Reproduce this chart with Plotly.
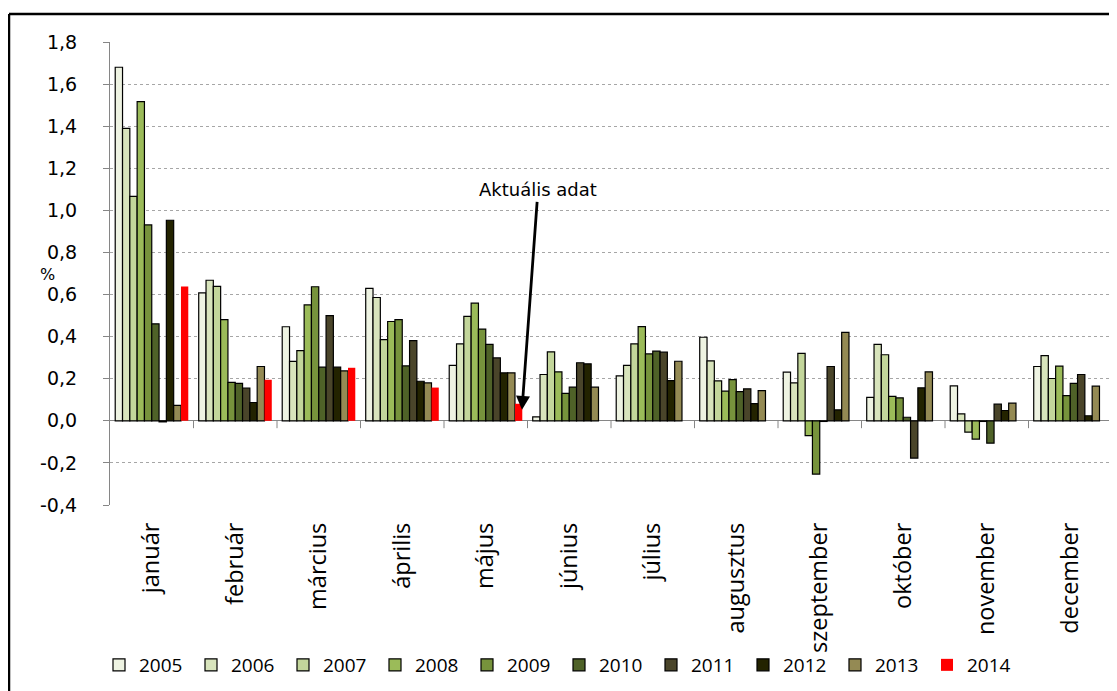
import plotly.graph_objects as go

months = ["január", "február", "március", "április", "május", "június",
          "július", "augusztus", "szeptember", "október", "november", "december"]
years = ["2005", "2006", "2007", "2008", "2009", "2010", "2011", "2012", "2013", "2014"]

v2005 = [1.68, 0.608, 0.447, 0.629, 0.263, 0.019, 0.214, 0.397, 0.231, 0.111, 0.166, 0.258]
v2006 = [1.39, 0.668, 0.282, 0.586, 0.366, 0.220, 0.263, 0.285, 0.180, 0.363, 0.033, 0.310]
v2007 = [1.066, 0.639, 0.334, 0.386, 0.496, 0.328, 0.366, 0.190, 0.320, 0.314, -0.054, 0.201]
v2008 = [1.517, 0.481, 0.551, 0.472, 0.559, 0.233, 0.448, 0.141, -0.070, 0.116, -0.087, 0.260]
v2009 = [0.931, 0.183, 0.637, 0.481, 0.436, 0.130, 0.318, 0.196, -0.253, 0.109, -0.003, 0.120]
v2010 = [0.461, 0.178, 0.255, 0.261, 0.363, 0.160, 0.331, 0.139, -0.003, 0.017, -0.106, 0.178]
v2011 = [-0.005, 0.156, 0.500, 0.381, 0.299, 0.276, 0.326, 0.152, 0.258, -0.177, 0.079, 0.220]
v2012 = [0.953, 0.087, 0.255, 0.188, 0.228, 0.271, 0.191, 0.082, 0.052, 0.157, 0.049, 0.024]
v2013 = [0.073, 0.258, 0.237, 0.180, 0.228, 0.160, 0.283, 0.143, 0.420, 0.233, 0.084, 0.165]
v2014 = [0.638, 0.195, 0.252, 0.158, 0.081, None, None, None, None, None, None, None]

series = [v2005, v2006, v2007, v2008, v2009, v2010, v2011, v2012, v2013, v2014]
colors = ["#eef3e2", "#d8e4bc", "#c3d69b", "#9bbb59", "#77933c", "#4f6228",
          "#4a452a", "#232300", "#948a54", "#ff0000"]

ytick_vals = [-0.4, -0.2, 0.0, 0.2, 0.4, 0.6, 0.8, 1.0, 1.2, 1.4, 1.6, 1.8]
ytick_text = ["-0,4", "-0,2", "0,0", "0,2", "0,4", "0,6", "0,8", "1,0", "1,2", "1,4", "1,6", "1,8"]

fig = go.Figure()
for yr, vals, col in zip(years, series, colors):
    line = dict(color="#000000", width=1.2) if yr != "2014" else dict(width=0)
    fig.add_trace(go.Bar(name=yr, x=months, y=vals, marker=dict(color=col, line=line)))

# the page body adds an 8px offset, so figure coordinates are screen minus 8
W, H = 1117, 691
ml, mt = 102, 34
mr = W - 1104
mb = H - 497
pw, ph = W - ml - mr, H - mt - mb

shapes = []
# category separator ticks hanging below the zero line
for k in range(1, len(months)):
    shapes.append(dict(type="line", xref="x", yref="y", x0=k - 0.5, x1=k - 0.5,
                       y0=0, y1=-0.035, line=dict(color="#868686", width=1)))
# outer frame (top and left)
fy = 1 + (mt - 6) / ph
fx = (1 - ml) / pw
shapes.append(dict(type="line", xref="paper", yref="paper", x0=fx, x1=1.2, y0=fy, y1=fy,
                   line=dict(color="#000000", width=2.5)))
shapes.append(dict(type="line", xref="paper", yref="paper", x0=fx, x1=fx, y0=-1, y1=fy,
                   line=dict(color="#000000", width=2.5)))

fig.update_layout(
    width=W, height=H,
    margin=dict(l=ml, r=mr, t=mt, b=mb, autoexpand=False),
    paper_bgcolor="white", plot_bgcolor="white",
    barmode="group", bargap=0.125, bargroupgap=0,
    showlegend=True,
    legend=dict(orientation="h", x=(91 - ml) / pw, xanchor="left", y=(497 - 657) / ph, yanchor="middle",
                font=dict(family="Open Sans", size=19, color="#000000"),
                entrywidth=47, entrywidthmode="pixels", itemwidth=30,
                traceorder="normal", bgcolor="rgba(0,0,0,0)"),
    shapes=shapes,
    xaxis=dict(type="category", categoryorder="array", categoryarray=months,
               range=[-0.5, 11.5], tickangle=-90, ticks="", showline=False,
               showgrid=False, zeroline=False, ticklabelstandoff=12, automargin=False,
               tickfont=dict(family="Open Sans", size=23.5, color="#000000")),
    yaxis=dict(range=[-0.4, 1.8], tickvals=ytick_vals, ticktext=ytick_text, automargin=False,
               showgrid=True, gridcolor="#a6a6a6", griddash="dot", gridwidth=1,
               zeroline=True, zerolinecolor="#868686", zerolinewidth=1.2,
               showline=True, linecolor="#868686", linewidth=1.2,
               ticks="outside", ticklen=6, tickcolor="#868686", ticklabelstandoff=22,
               tickfont=dict(family="DejaVu Sans", size=19, color="#000000")),
    annotations=[
        dict(text="%", xref="paper", yref="paper", x=(30 - ml) / pw, y=(497 - 266) / ph,
             showarrow=False, font=dict(family="DejaVu Sans", size=16, color="#000000")),
        dict(text="Aktuális adat", xref="x", yref="y", x=4.434, y=0.052,
             ax=16, ay=-220, showarrow=True, arrowhead=2, arrowsize=1, arrowwidth=2.8,
             arrowcolor="#000000",
             font=dict(family="DejaVu Sans", size=18, color="#000000")),
    ],
)

fig.write_html("out.html")
